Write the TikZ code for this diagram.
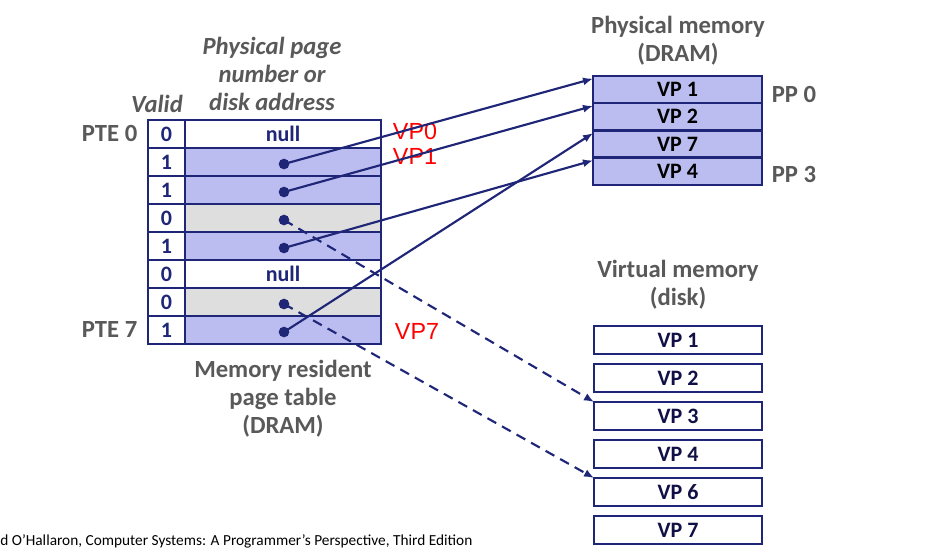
\documentclass[tikz,border=0pt]{standalone}
\usepackage{fontspec}
\setmainfont{Carlito}
\newfontfamily\redsans{Liberation Sans}
\usetikzlibrary{arrows.meta,positioning}
\definecolor{navy}{RGB}{31,38,120}
\definecolor{ptblue}{RGB}{187,189,240}
\definecolor{ptgray}{RGB}{222,222,222}
\definecolor{capgray}{RGB}{89,89,89}
\definecolor{inkblue}{RGB}{16,16,70}
\newcommand{\cellfont}{\bfseries\fontsize{16.5}{19}\selectfont}
\newcommand{\lblfont}{\bfseries\fontsize{18.5}{21}\selectfont}
\tikzset{
    validcell/.style={draw=navy,line width=1.7pt,anchor=north west,inner sep=0pt,outer sep=0pt,
        minimum width=27.75pt,minimum height=21pt,fill=white,text=navy,font=\cellfont},
    addrcell/.style={validcell,minimum width=147pt},
    pmcell/.style={validcell,minimum width=126.75pt,minimum height=20.25pt,fill=ptblue,text=black},
    vmcell/.style={validcell,minimum width=126pt,minimum height=21pt,text=inkblue},
    dot/.style={circle,fill=navy,inner sep=0pt,minimum size=8pt},
    caption/.style={text=capgray,font=\lblfont,align=center},
    redlabel/.style={text=red,font=\redsans\fontsize{17.5}{20}\selectfont},
    ptr/.style={draw=navy,line width=1.6pt,-{Latex[length=7.5pt,width=6pt]}},
    diskptr/.style={ptr,dash pattern=on 7.5pt off 5pt}
}
\begin{document}
\begin{tikzpicture}[x=0.75pt,y=-0.75pt]
    \fill[white] (0,0) rectangle (942,551);
    \useasboundingbox (0,0) rectangle (942,551);

    \foreach \i/\v/\f/\t in {0/0/white/null,1/1/ptblue/{},2/1/ptblue/{},3/0/ptgray/{},
        4/1/ptblue/{},5/0/white/null,6/0/ptgray/{},7/1/ptblue/{}} {
        \node[validcell] (v\i) at (148,{120+28*\i}) {\v};
        \node[addrcell,fill=\f] (a\i) at (185,{120+28*\i}) {\t};
    }
    \foreach \i in {1,2,3,4,6,7}
        \node[dot] (d\i) at (284,{136+28*\i}) {};

    \node[caption] (valid) at (157,104) {\itshape Valid};
    \node[caption] (ppn) at (272,74) {\itshape Physical page\\ \itshape number or\\ \itshape disk address};
    \node[caption,anchor=east] (pte0) at (142,133) {PTE 0};
    \node[caption,anchor=east] (pte7) at (142,329) {PTE 7};
    \node[caption] (ptable) at (283,399) {Memory resident\\page table\\(DRAM)};

    \node[redlabel] (lvp0) at (415,131) {VP0};
    \node[redlabel] (lvp1) at (415,156) {VP1};
    \node[redlabel] (lvp7) at (417,331) {VP7};

    \node[caption] (pmem) at (678,41) {Physical memory\\(DRAM)};
    \foreach \i/\p in {0/1,1/2,2/7,3/4}
        \node[pmcell] (pm\i) at (593,{76+27.25*\i}) {VP \p};
    \node[caption] (pp0) at (794,94) {PP 0};
    \node[caption] (pp3) at (794,174) {PP 3};

    \node[caption] (vmem) at (678,285) {Virtual memory\\(disk)};
    \foreach \n [count=\k from 0] in {1,2,3,4,6,7}
        \node[vmcell] (vm\n) at (594,{326+38*\k}) {VP \n};

    \draw[ptr] (d1.center) -- ([yshift=-2pt]pm0.north west);
    \draw[ptr] (d2.center) -- ([yshift=-2pt]pm1.north west);
    \draw[ptr] (d4.center) -- ([yshift=-2pt]pm3.north west);
    \draw[ptr] (d7.center) -- ([yshift=-2pt]pm2.north west);
    \draw[diskptr] (d3.center) -- (vm3.north west);
    \draw[diskptr] (d6.center) -- (vm6.north west);

    \node[anchor=west,inner sep=0pt,font=\fontsize{11.5}{13}\selectfont] (credit) at (0,541)
        {d O’Hallaron, Computer Systems: A Programmer’s Perspective, Third Edition};
\end{tikzpicture}
\end{document}
